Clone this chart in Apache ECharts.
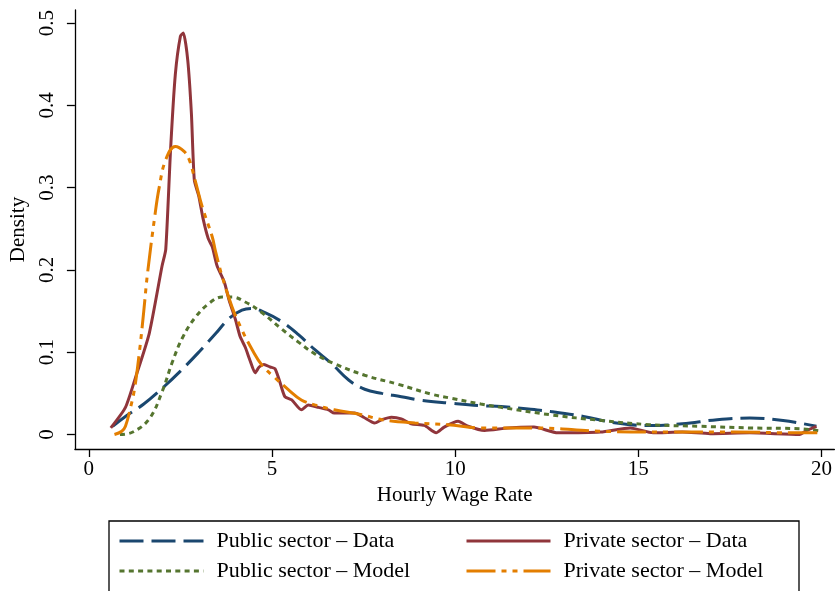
<!DOCTYPE html>
<html>
<head>
<meta charset="utf-8">
<script src="https://cdn.jsdelivr.net/npm/echarts@6/dist/echarts.min.js"></script>
<style>
  html, body { margin: 0; padding: 0; background: #fff; }
  #chart { width: 835px; height: 591px; }
</style>
</head>
<body>
<div id="chart"></div>
<script>
// tick labels
const xTicks = [0, 5, 10, 15, 20]
const yTicks = [0, 0.1, 0.2, 0.3, 0.4, 0.5]

const names = ['Public sector – Data', 'Private sector – Data', 'Public sector – Model', 'Private sector – Model']

// Public sector – Data (navy, long dash)
const pubDataX = [0.65, 1.0, 1.5, 2.0, 2.5, 3.0, 3.45, 3.83, 4.18, 4.46, 4.81, 5.27, 5.73, 6.17, 6.63, 7.1, 7.53, 8.0, 8.53, 9.0, 9.9, 10.7, 11.25, 12.0, 12.6, 13.5, 14.4, 15.3, 16.2, 17.15, 18.04, 18.95, 19.86]
const pubDataY = [0.01, 0.022, 0.037, 0.056, 0.077, 0.1, 0.122, 0.141, 0.151, 0.153, 0.148, 0.137, 0.121, 0.103, 0.086, 0.066, 0.055, 0.05, 0.046, 0.042, 0.038, 0.035, 0.034, 0.031, 0.028, 0.022, 0.014, 0.011, 0.013, 0.018, 0.02, 0.017, 0.01]

// Public sector – Model (green, dotted)
const pubModelX = [0.85, 1.2, 1.65, 2.0, 2.28, 2.55, 2.9, 3.3, 3.64, 3.91, 4.27, 4.73, 5.27, 5.73, 6.17, 6.71, 7.53, 8.45, 9.35, 9.9, 10.7, 11.25, 12.6, 14.0, 15.3, 16.7, 18.04, 19.4, 20.0]
const pubModelY = [0.0, 0.003, 0.019, 0.052, 0.088, 0.117, 0.142, 0.16, 0.167, 0.167, 0.161, 0.148, 0.128, 0.112, 0.098, 0.086, 0.072, 0.061, 0.049, 0.044, 0.037, 0.033, 0.024, 0.017, 0.012, 0.01, 0.008, 0.007, 0.004]

// Private sector – Data (maroon, solid)
const privDataX = [0.6, 1.0, 1.28, 1.65, 2.0, 2.1, 2.23, 2.36, 2.5, 2.58, 2.7, 2.8, 2.88, 3.0, 3.12, 3.26, 3.37, 3.5, 3.7, 3.83, 4.0, 4.13, 4.27, 4.4, 4.54, 4.65, 4.78, 4.95, 5.08, 5.2, 5.35, 5.54, 5.8, 5.99, 6.27, 6.54, 6.7, 6.98, 7.26, 7.5, 7.8, 8.0, 8.26, 8.53, 8.8, 9.16, 9.48, 9.7, 10.08, 10.35, 10.8, 11.44, 12.15, 12.8, 13.97, 14.78, 15.4, 16.2, 16.96, 18.04, 19.4, 19.6, 19.86]
const privDataY = [0.008, 0.033, 0.07, 0.123, 0.205, 0.225, 0.345, 0.437, 0.484, 0.488, 0.455, 0.39, 0.309, 0.29, 0.262, 0.238, 0.228, 0.205, 0.185, 0.163, 0.14, 0.119, 0.106, 0.09, 0.075, 0.082, 0.085, 0.082, 0.08, 0.066, 0.046, 0.042, 0.03, 0.036, 0.033, 0.03, 0.026, 0.026, 0.026, 0.021, 0.014, 0.018, 0.021, 0.019, 0.013, 0.011, 0.002, 0.009, 0.016, 0.01, 0.005, 0.008, 0.009, 0.002, 0.003, 0.008, 0.002, 0.003, 0.001, 0.002, 0.0, 0.005, 0.01]

// Private sector – Model (orange, dash-dot)
const privModelX = [0.7, 0.9, 1.0, 1.14, 1.25, 1.38, 1.5, 1.6, 1.8, 1.92, 2.1, 2.36, 2.6, 2.74, 2.9, 3.1, 3.37, 3.45, 3.64, 3.91, 4.18, 4.46, 4.73, 5.08, 5.46, 5.8, 6.17, 6.7, 7.45, 8.0, 8.9, 9.8, 10.7, 12.15, 13.97, 15.8, 17.6, 19.4, 20.0]
const privModelY = [0.0, 0.004, 0.01, 0.033, 0.056, 0.1, 0.15, 0.195, 0.265, 0.3, 0.334, 0.35, 0.344, 0.334, 0.309, 0.276, 0.24, 0.224, 0.192, 0.155, 0.127, 0.103, 0.084, 0.069, 0.054, 0.042, 0.036, 0.03, 0.024, 0.018, 0.014, 0.012, 0.008, 0.008, 0.004, 0.003, 0.003, 0.002, 0.002]

const zip = (xs, ys) => xs.map((x, i) => [x, ys[i]])

const font = 'Liberation Serif'
const chart = echarts.init(document.getElementById('chart'))

const legendBase = {
  orient: 'vertical',
  top: 529,
  padding: 0,
  itemWidth: 84,
  itemHeight: 14,
  itemGap: 6,
  selectedMode: false,
  itemStyle: { opacity: 0 },
  lineStyle: { width: 3 },
  textStyle: { fontFamily: font, fontSize: 22, color: '#000', lineHeight: 24, padding: [0, 0, 0, 8] }
}

const option = {
  animation: false,
  grid: { left: 72, right: 0, top: 10, bottom: 142, containLabel: false },
  xAxis: {
    type: 'value',
    min: -0.38,
    max: 20.35,
    name: 'Hourly Wage Rate',
    nameLocation: 'middle',
    nameGap: 34,
    nameTextStyle: { fontFamily: font, fontSize: 21, color: '#000' },
    axisLine: { onZero: false, lineStyle: { color: '#000', width: 1.3 } },
    axisTick: { length: 8, customValues: xTicks, lineStyle: { color: '#000', width: 1.3 } },
    axisLabel: { customValues: xTicks, margin: 10, fontFamily: font, fontSize: 21, color: '#000' },
    splitLine: { show: false }
  },
  yAxis: {
    type: 'value',
    min: -0.0176,
    max: 0.5158,
    name: 'Density',
    nameLocation: 'middle',
    nameGap: 44,
    nameRotate: 90,
    nameTextStyle: { fontFamily: font, fontSize: 21, color: '#000' },
    axisLine: { show: true, onZero: false, lineStyle: { color: '#000', width: 1.3 } },
    axisTick: { show: true, length: 8, customValues: yTicks, lineStyle: { color: '#000', width: 1.3 } },
    axisLabel: {
      customValues: yTicks,
      rotate: 90,
      margin: 17,
      fontFamily: font,
      fontSize: 21,
      color: '#000',
      formatter: v => (v === 0 ? '0' : v.toFixed(1))
    },
    splitLine: { show: false }
  },
  legend: [
    Object.assign({}, legendBase, { left: 118, data: [names[0], names[2]] }),
    Object.assign({}, legendBase, { left: 465, data: [names[1], names[3]] })
  ],
  graphic: [{
    type: 'rect',
    shape: { x: 109, y: 521, width: 690, height: 100 },
    style: { fill: 'none', stroke: '#000', lineWidth: 1.3 },
    silent: true
  }],
  series: [
    {
      name: names[0], type: 'line', symbol: 'none', smooth: 0.4,
      lineStyle: { color: '#1a476f', width: 3, type: [24, 8] },
      itemStyle: { color: '#1a476f' },
      data: zip(pubDataX, pubDataY)
    },
    {
      name: names[1], type: 'line', symbol: 'none', smooth: 0.2,
      lineStyle: { color: '#90353b', width: 3, type: 'solid' },
      itemStyle: { color: '#90353b' },
      data: zip(privDataX, privDataY)
    },
    {
      name: names[2], type: 'line', symbol: 'none', smooth: 0.4,
      lineStyle: { color: '#55752f', width: 3, type: [5, 4.3] },
      itemStyle: { color: '#55752f' },
      data: zip(pubModelX, pubModelY)
    },
    {
      name: names[3], type: 'line', symbol: 'none', smooth: 0.4,
      lineStyle: { color: '#e37e00', width: 3, type: [29, 6, 5, 6, 5, 6] },
      itemStyle: { color: '#e37e00' },
      data: zip(privModelX, privModelY)
    }
  ]
}

chart.setOption(option)
</script>
</body>
</html>
